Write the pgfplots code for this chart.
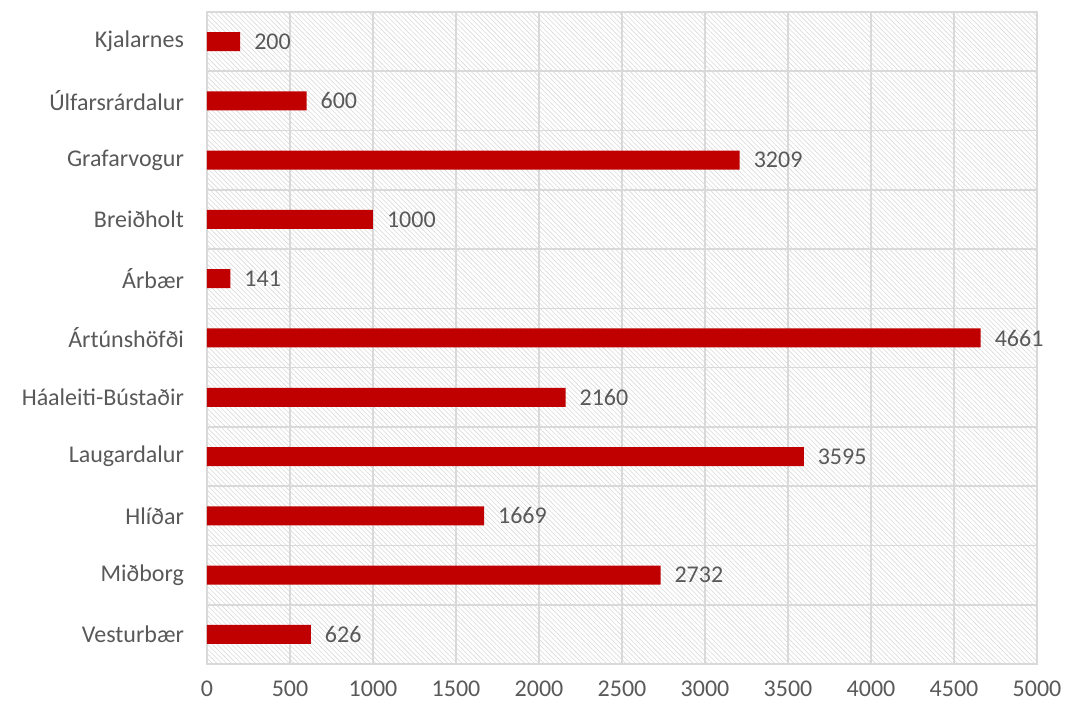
\documentclass[border=0pt]{standalone}
\usepackage{fontspec}
\setmainfont{Carlito}
\usepackage{pgfplots}
\pgfplotsset{compat=1.18}
\usetikzlibrary{patterns.meta}
\definecolor{barred}{HTML}{C00000}
\definecolor{txtgray}{HTML}{595959}
\definecolor{gridgray}{HTML}{D9D9D9}
\begin{document}
\begin{tikzpicture}
\begin{axis}[
  xbar,
  scale only axis,
  width=415pt,
  height=326pt,
  xmin=0, xmax=5000,
  ymin=-0.5, ymax=10.5,
  xtick={0,500,...,5000},
  ytick={0,...,10},
  yticklabels={Vesturbær,Miðborg,Hlíðar,Laugardalur,Háaleiti-Bústaðir,Ártúnshöfði,Árbær,Breiðholt,Grafarvogur,Úlfarsrárdalur,Kjalarnes},
  minor ytick={-0.5,0.5,...,10.5},
  xmajorgrids,
  yminorgrids,
  grid style={gridgray, line width=0.8pt},
  minor grid style={gridgray, line width=0.8pt},
  axis line style={gridgray, line width=0.8pt},
  major tick length=0pt,
  minor tick length=0pt,
  tick style={draw=none},
  scaled x ticks=false,
  /pgf/number format/assume math mode=true,
  /pgf/number format/1000 sep={},
  tick label style={font=\fontsize{12}{14}\selectfont, text=txtgray},
  yticklabel style={xshift=-8pt},
  xticklabel style={yshift=-5pt},
  axis background/.style={pattern={Lines[angle=-45,distance=1.7pt,line width=0.3pt]}, pattern color=gridgray},
  bar width=9.5pt,
  nodes near coords,
  every node near coord/.append style={font=\fontsize{12}{14}\selectfont, text=txtgray, anchor=west, xshift=3.5pt},
  nodes near coords style={/pgf/number format/1000 sep={}},
]
\addplot[draw=none, fill=barred] coordinates {
  (626,0) (2732,1) (1669,2) (3595,3) (2160,4) (4661,5)
  (141,6) (1000,7) (3209,8) (600,9) (200,10)
};
\end{axis}
\pgfresetboundingbox
\path (-103.5pt,-21pt) rectangle (440pt,332pt);
\end{tikzpicture}
\end{document}
